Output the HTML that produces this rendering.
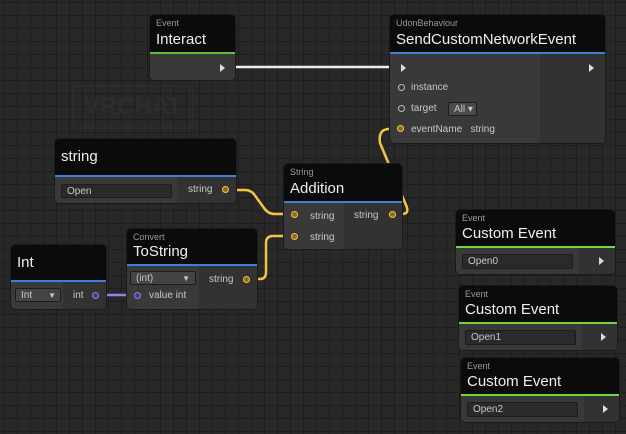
<!DOCTYPE html>
<html><head><style>
body{margin:0;width:626px;height:434px;overflow:hidden;font-family:"Liberation Sans","DejaVu Sans",sans-serif;
background-color:#282828;
background-image:linear-gradient(#1e1e1e 1px,transparent 1px),linear-gradient(90deg,#1e1e1e 1px,transparent 1px);
background-size:13px 13px;background-position:4px 2px;position:relative}
.n{position:absolute;background:#393939;border-radius:5px;border:1px solid #1a1a1a;overflow:hidden;box-sizing:border-box}
.h{background:#0b0b0b;position:absolute;left:0;right:0;top:0}
.cat{position:absolute;left:6px;top:3px;font-size:9px;color:#9a9a9a}
.t{position:absolute;left:6px;color:#eee;font-size:15px}
.lb{position:absolute;font-size:10px;color:#c8c8c8}
.fld{position:absolute;background:#2a2a2a;border:1px solid #1c1c1c;border-radius:2px;font-size:10px;color:#c8c8c8;box-sizing:border-box;padding-left:5px;line-height:13px}
.col{position:absolute;top:0;bottom:0;background:#323232}
.arr{position:absolute;width:0;height:0;border-top:4px solid transparent;border-bottom:4px solid transparent;border-left:5px solid #ddd}
</style></head><body>
<div style="position:absolute;left:72px;top:85px;width:118px;height:40px;border:2px solid #2c2c2c;border-radius:6px;color:#2d2d2d;font:bold 24px 'Liberation Sans';text-align:center;line-height:40px">VRCHAT</div>

<svg width="626" height="434" style="position:absolute;left:0;top:0" fill="none">
<path d="M236 67 L395 67" stroke="#eee" stroke-width="2.5"/>
<path d="M231 190 L245 190 Q252 190 256 197 L264 208 Q268 214 275 214 L288 214" stroke="#f5c542" stroke-width="2.5"/>
<path d="M252 279 L260 279 Q266 279 266 272 L266 243 Q266 236 273 236 L288 236" stroke="#f5c542" stroke-width="2.5"/>
<path d="M397 214 L402 214 Q410 214 406 205 L380 143 Q378 130 388 129 L395 129" stroke="#f5c542" stroke-width="2.5"/>
<path d="M100 295 L131 295" stroke="#9b7fe6" stroke-width="2.5"/>
</svg>

<!-- Interact -->
<div class="n" style="left:149px;top:14px;width:87px;height:67px">
<div class="h" style="height:37px;border-bottom:2px solid #5fbf3a"></div>
<div class="cat">Event</div><div class="t" style="top:16px">Interact</div>
<div class="arr" style="left:70px;top:49px"></div>
</div>

<!-- SendCustomNetworkEvent -->
<div class="n" style="left:389px;top:14px;width:217px;height:130px">
<div class="col" style="left:150px;right:0;background:#323232"></div>
<div class="h" style="height:37px;border-bottom:2px solid #3f7fd6"></div>
<div class="cat">UdonBehaviour</div><div class="t" style="top:16px">SendCustomNetworkEvent</div>
<div class="arr" style="left:11px;top:49px"></div>
<div class="arr" style="left:199px;top:49px"></div>
<div style="position:absolute;left:8px;top:69px;width:5px;height:5px;border:1px solid #bbb;border-radius:50%"></div>
<div class="lb" style="left:21px;top:67px">instance</div>
<div style="position:absolute;left:8px;top:90px;width:5px;height:5px;border:1px solid #bbb;border-radius:50%"></div>
<div class="lb" style="left:21px;top:88px">target</div>
<div class="fld" style="left:58px;top:87px;width:29px;height:14px;background:#4a4a4a">All ▾</div>
<div style="position:absolute;left:7px;top:110px;width:5px;height:5px;border:1.5px solid #f5c542;border-radius:50%;background:#8a6d20"></div>
<div class="lb" style="left:21px;top:109px">eventName&nbsp;&nbsp;&nbsp;string</div>
</div>

<!-- string -->
<div class="n" style="left:54px;top:138px;width:183px;height:66px">
<div class="col" style="left:122px;right:0"></div>
<div class="h" style="height:36px;border-bottom:2px solid #3f7fd6"></div>
<div class="t" style="top:9px">string</div>
<div class="fld" style="left:6px;top:45px;width:111px;height:14px">Open</div>
<div class="lb" style="left:133px;top:45px">string</div>
<div style="position:absolute;left:167px;top:47px;width:5px;height:5px;border:1.5px solid #f5c542;border-radius:50%;background:#8a6d20"></div>
</div>

<!-- Addition -->
<div class="n" style="left:283px;top:163px;width:120px;height:87px">
<div class="col" style="left:60px;right:0"></div>
<div class="h" style="height:37px;border-bottom:2px solid #3f7fd6"></div>
<div class="cat">String</div><div class="t" style="top:16px">Addition</div>
<div style="position:absolute;left:7px;top:47px;width:5px;height:5px;border:1.5px solid #f5c542;border-radius:50%;background:#8a6d20"></div>
<div class="lb" style="left:26px;top:47px">string</div>
<div style="position:absolute;left:7px;top:69px;width:5px;height:5px;border:1.5px solid #f5c542;border-radius:50%;background:#8a6d20"></div>
<div class="lb" style="left:26px;top:68px">string</div>
<div class="lb" style="left:70px;top:46px">string</div>
<div style="position:absolute;left:105px;top:47px;width:5px;height:5px;border:1.5px solid #f5c542;border-radius:50%;background:#8a6d20"></div>
</div>

<!-- Int -->
<div class="n" style="left:10px;top:244px;width:97px;height:66px">
<div class="col" style="left:52px;right:0"></div>
<div class="h" style="height:35px;border-bottom:2px solid #3f7fd6"></div>
<div class="t" style="top:9px">Int</div>
<div class="fld" style="left:4px;top:43px;width:46px;height:14px;background:#444">Int<span style="position:absolute;right:4px;font-size:8px">▼</span></div>
<div class="lb" style="left:62px;top:45px">int</div>
<div style="position:absolute;left:81px;top:47px;width:5px;height:5px;border:1.5px solid #9b7fe6;border-radius:50%;background:#4a3a80"></div>
</div>

<!-- ToString -->
<div class="n" style="left:126px;top:228px;width:132px;height:82px">
<div class="col" style="left:72px;right:0"></div>
<div class="h" style="height:35px;border-bottom:2px solid #3f7fd6"></div>
<div class="cat">Convert</div><div class="t" style="top:14px">ToString</div>
<div class="fld" style="left:3px;top:42px;width:66px;height:14px;background:#444">(int)<span style="position:absolute;right:5px;font-size:8px">▼</span></div>
<div style="position:absolute;left:7px;top:63px;width:5px;height:5px;border:1.5px solid #9b7fe6;border-radius:50%;background:#4a3a80"></div>
<div class="lb" style="left:22px;top:61px">value&nbsp;int</div>
<div class="lb" style="left:82px;top:45px">string</div>
<div style="position:absolute;left:116px;top:47px;width:5px;height:5px;border:1.5px solid #f5c542;border-radius:50%;background:#8a6d20"></div>
</div>

<!-- Custom events -->
<div class="n" style="left:455px;top:209px;width:161px;height:66px">
<div class="col" style="left:123px;right:0"></div>
<div class="h" style="height:36px;border-bottom:2px solid #6ed83a"></div>
<div class="cat">Event</div><div class="t" style="top:15px">Custom Event</div>
<div class="fld" style="left:6px;top:44px;width:111px;height:15px">Open0</div>
<div class="arr" style="left:143px;top:47px"></div>
</div>
<div class="n" style="left:458px;top:285px;width:160px;height:66px">
<div class="col" style="left:123px;right:0"></div>
<div class="h" style="height:36px;border-bottom:2px solid #6ed83a"></div>
<div class="cat">Event</div><div class="t" style="top:15px">Custom Event</div>
<div class="fld" style="left:6px;top:44px;width:111px;height:15px">Open1</div>
<div class="arr" style="left:142px;top:47px"></div>
</div>
<div class="n" style="left:460px;top:357px;width:160px;height:66px">
<div class="col" style="left:123px;right:0"></div>
<div class="h" style="height:36px;border-bottom:2px solid #6ed83a"></div>
<div class="cat">Event</div><div class="t" style="top:15px">Custom Event</div>
<div class="fld" style="left:6px;top:44px;width:111px;height:15px">Open2</div>
<div class="arr" style="left:142px;top:47px"></div>
</div>
</body></html>
